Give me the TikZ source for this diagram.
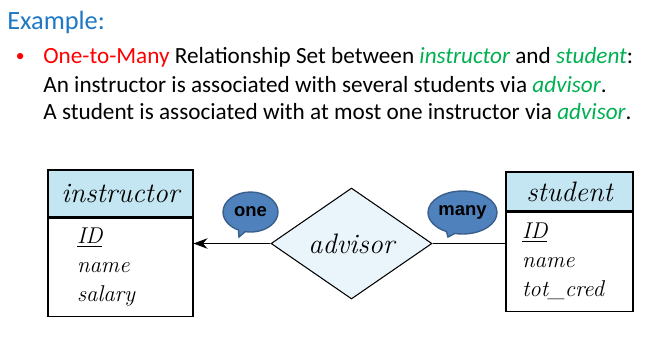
\documentclass[tikz,border=0pt]{standalone}
\usepackage{fontspec}
\usepackage{tikz}
\usetikzlibrary{positioning}
\usetikzlibrary{arrows.meta}
\usetikzlibrary{shapes.geometric}
\usetikzlibrary{shapes.callouts}
\newfontfamily\slidefont{Carlito}
\newfontfamily\tagfont{Liberation Sans}
\definecolor{titleblue}{HTML}{1F78C4}
\definecolor{keygreen}{HTML}{00B050}
\definecolor{headblue}{HTML}{C3E6F2}
\definecolor{relblue}{HTML}{EAF5FB}
\definecolor{tagblue}{HTML}{4F81BD}
\definecolor{tagedge}{HTML}{3A5F8C}
\newcommand{\grn}[1]{\textcolor{keygreen}{\itshape #1}}
\tikzset {
  % entity set: name on top, attributes below
  enthead/.style = {draw, fill=headblue, inner sep=0pt, line width=0.6pt,
    font=\fontsize{16}{18}\selectfont\itshape},
  entbody/.style = {draw, fill=white, align=left, inner ysep=0pt, line width=0.6pt,
    font=\fontsize{13}{16.5}\selectfont\itshape},
  % relationship set
  rel/.style = {draw, diamond, fill=relblue, inner sep=0pt, line width=0.6pt,
    minimum width=3.22cm, minimum height=2.22cm,
    font=\fontsize{16}{18}\selectfont\itshape},
  % cardinality bubbles
  tag/.style = {ellipse callout, draw=tagedge, fill=tagblue, line width=0.8pt,
    inner sep=0pt, font=\tagfont\bfseries\fontsize{10.5}{12}\selectfont},
  % slide text
  line/.style = {anchor=base west, inner sep=0pt,
    font=\slidefont\fontsize{13.2}{16}\selectfont},
  link/.style = {line width=0.6pt},
}

\begin{document}
\begin{tikzpicture}[x=0.02cm, y=-0.02cm]
  \useasboundingbox (0,0) rectangle (661,363);

  \node[line, text=titleblue, font=\slidefont\fontsize{15}{18}\selectfont] (title) at (7,29) {Example:};
  \node[line, text=red, font=\slidefont\fontsize{10}{12}\selectfont] (dot) at (15.5,61) {\textbullet};
  \node[line] (l1) at (43,63) {\textcolor{red}{One-to-Many} Relationship Set between \grn{instructor} and \grn{student}:};
  \node[line] (l2) at (43,92) {An instructor is associated with several students via \grn{advisor}.};
  \node[line] (l3) at (43,119.5) {A student is associated with at most one instructor via \grn{advisor}.};

  \node[enthead, minimum width=2.9cm, minimum height=0.94cm] (instr) at (120.5,193.5) {instructor};
  \node[entbody, below=0pt of instr, text width=1.74cm, inner xsep=0.58cm, minimum height=1.96cm] (instr-attr)
    {\underline{ID}\\ name\\ salary};

  \node[enthead, minimum width=2.54cm, minimum height=0.78cm] (stud) at (569.5,191.5) {student};
  \node[entbody, below=0pt of stud, text width=1.9cm, inner xsep=0.32cm, minimum height=1.98cm] (stud-attr)
    {\underline{ID}\\ name\\ tot\_cred};

  \node[rel] (adv) at (351.5,243.5) {advisor};

  \draw[link, -{Stealth[length=8pt, width=6pt]}] (adv.west) -- (adv.west -| instr-attr.east);
  \draw[link] (adv.east) -- (adv.east -| stud-attr.west);

  \node[tag, minimum width=1.1cm, minimum height=0.8cm, callout absolute pointer={(239,237)}] (one) at (250.5,212) {one};
  \node[tag, minimum width=1.38cm, minimum height=0.86cm, callout absolute pointer={(448,237)}] (many) at (462.5,212.5) {many};
\end{tikzpicture}
\end{document}
